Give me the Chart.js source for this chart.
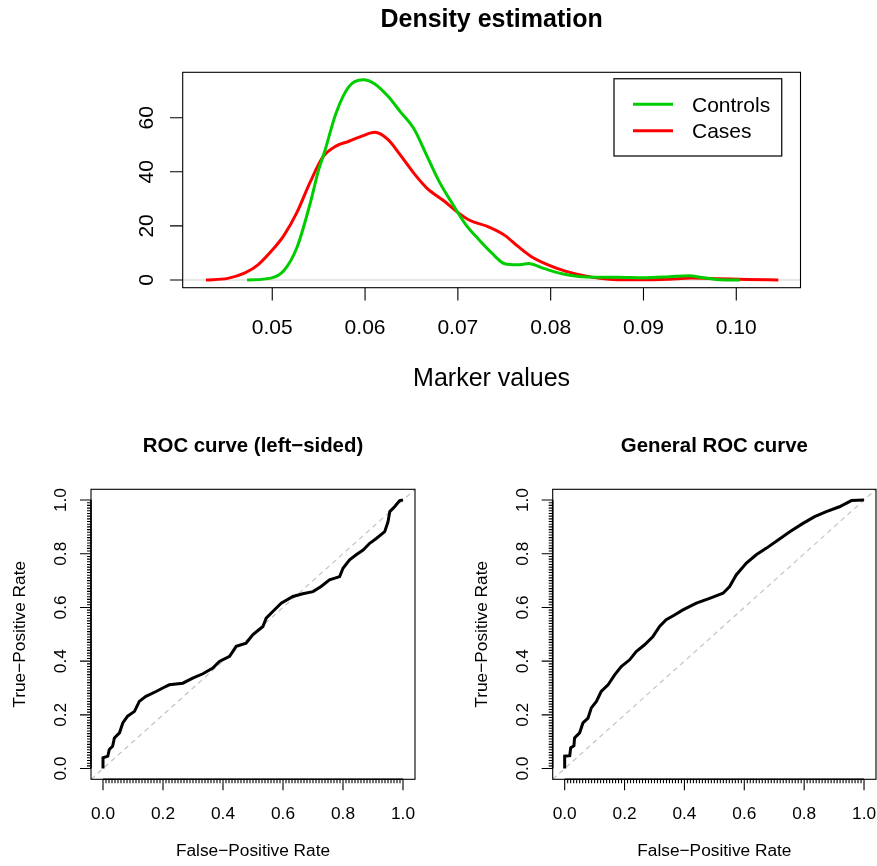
<!DOCTYPE html>
<html>
<head>
<meta charset="utf-8">
<script src="https://cdn.jsdelivr.net/npm/chart.js@4.4.1/dist/chart.umd.min.js"></script>
<style>
  html, body { margin: 0; padding: 0; background: #fff; }
  #wrap { position: relative; width: 877px; height: 866px; overflow: hidden; background: #fff; }
  canvas { position: absolute; }
</style>
</head>
<body>
<div id="wrap">
  <canvas id="densityChart" width="877" height="400" style="left:0;top:0;width:877px;height:400px"></canvas>
  <canvas id="rocLeftChart" width="440" height="466" style="left:0;top:400px;width:440px;height:466px"></canvas>
  <canvas id="rocGeneralChart" width="437" height="466" style="left:440px;top:400px;width:437px;height:466px"></canvas>
</div>
<script>
// --- DATA ---
const controlsX = [0.04729, 0.04986, 0.05126, 0.05266, 0.05406, 0.05499, 0.05569, 0.05686, 0.05826, 0.05979,
  0.06105, 0.06245, 0.06385, 0.06525, 0.06665, 0.06805, 0.06945, 0.07085, 0.07225, 0.07365,
  0.07505, 0.07645, 0.07761, 0.07924, 0.08111, 0.08391, 0.08717, 0.08997, 0.09277, 0.09487,
  0.09650, 0.09790, 0.10040];
const controlsY = [0, 0.7, 3.5, 12, 28, 40.6, 48, 61.6, 71.5, 74,
  72.5, 68, 62, 56, 46, 36, 28, 20.5, 15, 10,
  6, 5.6, 6.1, 4.3, 2.4, 1.1, 1.0, 0.8, 1.2, 1.6,
  0.8, 0.2, 0];

const casesX = [0.04286, 0.04520, 0.04706, 0.04846, 0.04986, 0.05126, 0.05266, 0.05406, 0.05546, 0.05686,
  0.05826, 0.05966, 0.06105, 0.06245, 0.06385, 0.06525, 0.06665, 0.06852, 0.06992, 0.07132,
  0.07318, 0.07505, 0.07645, 0.07785, 0.07971, 0.08158, 0.08344, 0.08530, 0.08717, 0.08997,
  0.09277, 0.09510, 0.09790, 0.10116, 0.10453];
const casesY = [0, 0.6, 2.6, 5.6, 10.5, 16.5, 25, 36, 45.5, 49.5,
  51.3, 53.2, 54.6, 52, 46, 39.5, 34, 29.2, 25.2, 22,
  19.8, 16.5, 12.5, 8.8, 5.6, 3.3, 1.7, 0.6, 0.1, 0.05,
  0.3, 0.7, 0.5, 0.2, 0];

const densityXTicks = [0.05, 0.06, 0.07, 0.08, 0.09, 0.10];
const densityYTicks = [0, 20, 40, 60];

const rocLeftFpr = [0, 0, 0.016, 0.021, 0.032, 0.038, 0.055, 0.066, 0.082, 0.105,
  0.121, 0.143, 0.177, 0.199, 0.221, 0.266, 0.299, 0.333, 0.366, 0.388,
  0.422, 0.444, 0.477, 0.499, 0.533, 0.544, 0.566, 0.594, 0.633, 0.666,
  0.700, 0.727, 0.755, 0.789, 0.800, 0.822, 0.844, 0.867, 0.889, 0.911,
  0.939, 0.950, 0.956, 0.972, 0.989, 1];
const rocLeftTpr = [0, 0.04, 0.046, 0.071, 0.083, 0.114, 0.133, 0.170, 0.195, 0.213,
  0.250, 0.269, 0.287, 0.300, 0.312, 0.318, 0.337, 0.353, 0.374, 0.399,
  0.418, 0.455, 0.467, 0.498, 0.529, 0.560, 0.585, 0.616, 0.641, 0.651,
  0.659, 0.678, 0.703, 0.715, 0.746, 0.777, 0.796, 0.814, 0.839, 0.857,
  0.882, 0.919, 0.957, 0.975, 0.998, 1];

const rocGenFpr = [0, 0, 0.017, 0.020, 0.031, 0.033, 0.050, 0.061, 0.078, 0.089,
  0.106, 0.122, 0.145, 0.167, 0.189, 0.217, 0.239, 0.267, 0.295, 0.317,
  0.339, 0.367, 0.395, 0.440, 0.484, 0.529, 0.551, 0.573, 0.607, 0.640,
  0.673, 0.713, 0.752, 0.796, 0.835, 0.874, 0.918, 0.958, 1];
const rocGenTpr = [0, 0.046, 0.048, 0.077, 0.085, 0.114, 0.133, 0.170, 0.188, 0.226,
  0.250, 0.287, 0.312, 0.349, 0.380, 0.405, 0.436, 0.461, 0.492, 0.529,
  0.554, 0.572, 0.591, 0.616, 0.634, 0.653, 0.678, 0.721, 0.765, 0.796,
  0.820, 0.851, 0.882, 0.913, 0.938, 0.957, 0.975, 0.998, 1];

const rocTicks = [0, 0.2, 0.4, 0.6, 0.8, 1.0];
const chanceLine = [-0.04, 1.04];

const FONT = '"Liberation Sans", Arial, Helvetica, sans-serif';

function pts(xs, ys) { return xs.map((x, i) => ({ x: x, y: ys[i] })); }

// minor ticks every 0.01 along the ROC axes
const rocMinor = [];
for (let i = 0; i <= 100; i++) rocMinor.push(i / 100);

// R-like frame: box, ticks, labels, titles
function rFrame(cfg) {
  return {
    id: 'rFrame',
    afterDraw(chart) {
      const ctx = chart.ctx, a = chart.chartArea;
      const xs = chart.scales.x, ys = chart.scales.y;
      ctx.save();
      ctx.strokeStyle = '#000';
      ctx.lineWidth = 1.1;
      ctx.strokeRect(a.left, a.top, a.right - a.left, a.bottom - a.top);

      // ticks
      ctx.beginPath();
      cfg.xTicks.forEach(v => {
        const px = xs.getPixelForValue(v);
        ctx.moveTo(px, a.bottom); ctx.lineTo(px, a.bottom + cfg.tickLen);
      });
      cfg.yTicks.forEach(v => {
        const py = ys.getPixelForValue(v);
        ctx.moveTo(a.left, py); ctx.lineTo(a.left - cfg.tickLen, py);
      });
      (cfg.minor || []).forEach(v => {
        const px = xs.getPixelForValue(v), py = ys.getPixelForValue(v);
        ctx.moveTo(px, a.bottom); ctx.lineTo(px, a.bottom + cfg.minorLen);
        ctx.moveTo(a.left, py); ctx.lineTo(a.left - cfg.minorLen, py);
      });
      ctx.stroke();
      if (cfg.minor) {
        // axis lines over the tick range
        ctx.lineWidth = 1.6;
        ctx.beginPath();
        ctx.moveTo(xs.getPixelForValue(0), a.bottom); ctx.lineTo(xs.getPixelForValue(1), a.bottom);
        ctx.moveTo(a.left, ys.getPixelForValue(0)); ctx.lineTo(a.left, ys.getPixelForValue(1));
        ctx.stroke();
      }

      ctx.fillStyle = '#000';
      ctx.font = cfg.tickFont + 'px ' + FONT;
      ctx.textAlign = 'center';
      ctx.textBaseline = 'alphabetic';
      cfg.xTicks.forEach(v => {
        ctx.fillText(cfg.fmtX(v), xs.getPixelForValue(v), a.bottom + cfg.xLabOff);
      });
      cfg.yTicks.forEach(v => {
        ctx.save();
        ctx.translate(a.left - cfg.yLabOff, ys.getPixelForValue(v));
        ctx.rotate(-Math.PI / 2);
        ctx.fillText(cfg.fmtY(v), 0, 0);
        ctx.restore();
      });

      const cx = (a.left + a.right) / 2, cy = (a.top + a.bottom) / 2;
      ctx.font = cfg.labFont + 'px ' + FONT;
      if (cfg.xTitle) ctx.fillText(cfg.xTitle, cx, a.bottom + cfg.xTitleOff);
      if (cfg.yTitle) {
        ctx.save();
        ctx.translate(a.left - cfg.yTitleOff, cy);
        ctx.rotate(-Math.PI / 2);
        ctx.fillText(cfg.yTitle, 0, 0);
        ctx.restore();
      }
      ctx.font = 'bold ' + cfg.mainFont + 'px ' + FONT;
      ctx.fillText(cfg.title, cx, a.top - cfg.titleOff);

      if (cfg.legend) {
        const L = cfg.legend;
        ctx.strokeStyle = '#222';
        ctx.lineWidth = 1.4;
        ctx.strokeRect(L.x, L.y, L.w, L.h);
        ctx.font = cfg.tickFont + 'px ' + FONT;
        ctx.textAlign = 'left';
        L.items.forEach((it, i) => {
          const y = L.y + L.first + i * L.gap;
          ctx.strokeStyle = it.color;
          ctx.lineWidth = 3;
          ctx.beginPath();
          ctx.moveTo(L.x + 19, y); ctx.lineTo(L.x + 59, y);
          ctx.stroke();
          ctx.fillText(it.label, L.x + 78, y + 7.5);
        });
      }
      ctx.restore();
    }
  };
}

function baseOptions(pad, xr, yr) {
  return {
    responsive: false,
    animation: false,
    devicePixelRatio: 1,
    layout: { padding: pad },
    plugins: { legend: { display: false }, tooltip: { enabled: false }, title: { display: false } },
    elements: { point: { radius: 0 } },
    scales: {
      x: { type: 'linear', min: xr[0], max: xr[1], display: false },
      y: { type: 'linear', min: yr[0], max: yr[1], display: false }
    }
  };
}

// =========================================================
// DENSITY ESTIMATION
// =========================================================
new Chart(document.getElementById('densityChart'), {
  type: 'line',
  data: {
    datasets: [
      { label: 'Controls', data: pts(controlsX, controlsY), borderColor: '#00CD00', borderWidth: 3,
        cubicInterpolationMode: 'monotone', fill: false },
      { label: 'Cases', data: pts(casesX, casesY), borderColor: '#FF0000', borderWidth: 3,
        cubicInterpolationMode: 'monotone', fill: false },
      { label: 'zero', data: pts([0.04035, 0.10692], [0, 0]), borderColor: '#CFCFCF', borderWidth: 1.2, fill: false }
    ]
  },
  options: baseOptions({ left: 182.7, right: 76.5, top: 72.3, bottom: 112.3 }, [0.04035, 0.10692], [-2.85, 76.8]),
  plugins: [rFrame({
    xTicks: densityXTicks, yTicks: densityYTicks,
    fmtX: v => v.toFixed(2), fmtY: v => String(v),
    tickLen: 12.7, tickFont: 21, xLabOff: 46.3, yLabOff: 30,
    labFont: 25, xTitle: 'Marker values', xTitleOff: 98,
    mainFont: 25, title: 'Density estimation', titleOff: 45,
    legend: { x: 614, y: 78.7, w: 167.7, h: 77.3, first: 25.6, gap: 26.4,
      items: [{ label: 'Controls', color: '#00CD00' }, { label: 'Cases', color: '#FF0000' }] }
  })]
});

// =========================================================
// ROC CURVES
// =========================================================
function rocChart(id, fpr, tpr, title, padLeft, padRight) {
  new Chart(document.getElementById(id), {
    type: 'line',
    data: {
      datasets: [
        { label: 'ROC', data: pts(fpr, tpr), borderColor: '#000', borderWidth: 3, tension: 0, fill: false },
        { label: 'chance', data: pts(chanceLine, chanceLine), borderColor: '#C4C4C4', borderWidth: 1.2,
          borderDash: [5, 4], fill: false }
      ]
    },
    options: baseOptions({ left: padLeft, right: padRight, top: 89.3, bottom: 86.7 }, [-0.04, 1.04], [-0.04, 1.04]),
    plugins: [rFrame({
      xTicks: rocTicks, yTicks: rocTicks, minor: rocMinor,
      fmtX: v => v.toFixed(1), fmtY: v => v.toFixed(1),
      tickLen: 11, minorLen: 4, tickFont: 17.3, xLabOff: 40, yLabOff: 25,
      labFont: 17.3, xTitle: 'False\u2212Positive Rate', xTitleOff: 76.7,
      yTitle: 'True\u2212Positive Rate', yTitleOff: 66,
      mainFont: 20.4, title: title, titleOff: 37
    })]
  });
}

rocChart('rocLeftChart', rocLeftFpr, rocLeftTpr, 'ROC curve (left\u2212sided)', 91, 25);
rocChart('rocGeneralChart', rocGenFpr, rocGenTpr, 'General ROC curve', 112.7, 1);
</script>
</body>
</html>
